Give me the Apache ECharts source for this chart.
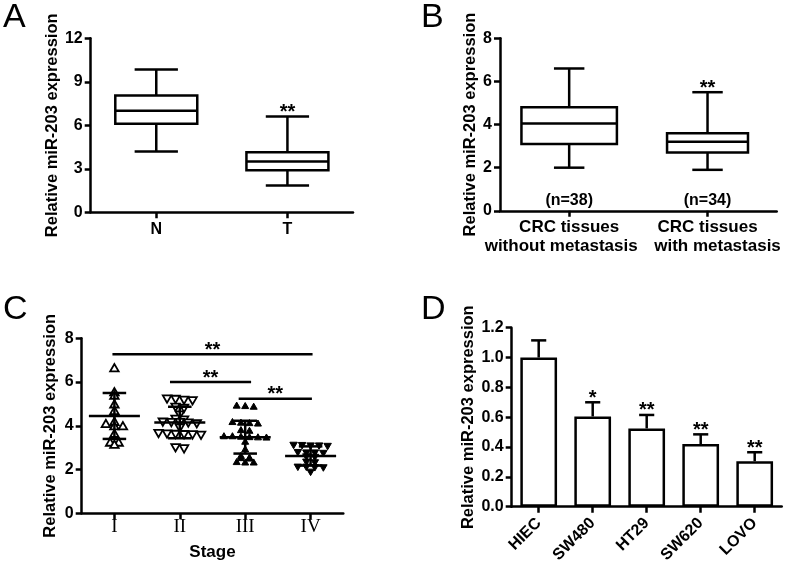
<!DOCTYPE html>
<html><head><meta charset="utf-8">
<script src="https://cdn.jsdelivr.net/npm/echarts@6/dist/echarts.min.js"></script>
<style>html,body{margin:0;padding:0;background:#fff}#c{width:787px;height:569px}</style>
</head><body><div id="c"></div>
<script>
// ---------- Panel A ----------
const catsA = ['N', 'T'];
const boxA = [[4.2, 6.1, 7.0, 8.05, 9.85], [1.85, 2.9, 3.5, 4.15, 6.6]]; // min,q1,median,q3,max
const sigA = ['', '**'];
const ticksA = [0, 12, 3];
// ---------- Panel B ----------
const catsB = ['CRC tissues\nwithout metastasis', 'CRC tissues\nwith metastasis'];
const nB = ['(n=38)', '(n=34)'];
const boxB = [[2.0, 3.1, 4.05, 4.8, 6.6], [1.9, 2.7, 3.2, 3.6, 5.5]];
const sigB = ['', '**'];
const ticksB = [0, 8, 2];
// ---------- Panel C ----------
const catsC = ['I', 'II', 'III', 'IV'];
const stageI = [6.6, 5.5, 5.35, 4.95, 4.65, 4.15, 4.05, 3.95, 3.95, 3.6, 3.2, 3.2, 3.1];
const stageII = [5.28, 5.22, 5.2, 5.26, 4.9, 4.85, 4.55, 4.35, 4.32, 4.2, 4.18, 4.15, 4.2, 4.22, 3.95, 3.68, 3.65, 3.62, 3.66, 3.7, 3.64, 3.05, 3.0];
const stageIII = [4.9, 4.88, 4.85, 4.15, 4.1, 4.12, 4.08, 3.78, 3.75, 3.5, 3.48, 3.45, 3.46, 3.5, 3.44, 3.25, 2.9, 2.6, 2.5, 2.52, 2.48, 2.32, 2.3, 2.3];
const stageIV = [3.15, 3.12, 3.1, 3.14, 3.12, 2.82, 2.8, 2.78, 2.8, 2.62, 2.6, 2.38, 2.35, 2.15, 2.12, 2.15, 2.13, 1.92];
const meanC = [4.45, 4.15, 3.48, 2.62];
const sdC = [1.05, 0.72, 0.75, 0.44];
const bracketsC = [[0, 3, 7.27, '**'], [1, 2, 6.0, '**'], [2, 3, 5.24, '**']];
const ticksC = [0, 8, 2];
// ---------- Panel D ----------
const catsD = ['HIEC', 'SW480', 'HT29', 'SW620', 'LOVO'];
const valD = [1.0, 0.605, 0.525, 0.42, 0.305];
const errD = [0.115, 0.095, 0.09, 0.065, 0.06];
const sigD = ['', '*', '**', '**', '**'];
const ticksD = [0, 1.2, 0.2];

const FONT = '"Liberation Sans", Arial, sans-serif';
const SERIF = '"Liberation Serif", "Times New Roman", serif';
const LW = 2.5;
const YTITLE = 'Relative miR-203 expression';

const chart = echarts.init(document.getElementById('c'), null, {renderer: 'canvas'});

function yAx(gi, t, nameGap, fmt) {
  return {
    type: 'value', gridIndex: gi, min: t[0], max: t[1], interval: t[2],
    name: YTITLE, nameLocation: 'middle', nameGap: nameGap,
    nameTextStyle: {fontSize: 16.5, fontWeight: 700, color: '#000', fontFamily: FONT},
    axisLine: {show: true, lineStyle: {color: '#000', width: LW}},
    axisTick: {show: true, length: 6, lineStyle: {color: '#000', width: LW}},
    axisLabel: {fontSize: 16, fontWeight: 700, color: '#000', margin: 8, fontFamily: FONT, formatter: fmt},
    splitLine: {show: false}
  };
}
function xAx(gi, cats, label, extra) {
  return Object.assign({
    type: 'category', gridIndex: gi, data: cats, boundaryGap: true,
    axisLine: {show: true, lineStyle: {color: '#000', width: LW}},
    axisTick: {show: true, alignWithLabel: true, length: 6, lineStyle: {color: '#000', width: LW}},
    axisLabel: Object.assign({fontSize: 16, fontWeight: 700, color: '#000', fontFamily: FONT, margin: 7, interval: 0}, label),
    splitLine: {show: false}
  }, extra || {});
}

const lineStyle = {stroke: '#000', lineWidth: LW, fill: null};
function starText(x, y, s) {
  return {type: 'text', style: {x: x, y: y, text: s, fill: '#000', font: 'bold 20px ' + FONT, align: 'center', verticalAlign: 'middle'}};
}

function boxRender(fracs, capFrac, sigs, nLabels) {
  return function (params, api) {
    const c = api.value(0);
    const mn = api.coord([c, api.value(1)]);
    const q1 = api.coord([c, api.value(2)]);
    const md = api.coord([c, api.value(3)]);
    const q3 = api.coord([c, api.value(4)]);
    const mx = api.coord([c, api.value(5)]);
    const band = api.size([1, 0])[0];
    const bw = band * fracs[c];
    const cw = band * capFrac;
    const x = mn[0];
    const kids = [
      {type: 'line', shape: {x1: x, y1: q3[1], x2: x, y2: mx[1]}, style: lineStyle},
      {type: 'line', shape: {x1: x, y1: q1[1], x2: x, y2: mn[1]}, style: lineStyle},
      {type: 'line', shape: {x1: x - cw / 2, y1: mx[1], x2: x + cw / 2, y2: mx[1]}, style: lineStyle},
      {type: 'line', shape: {x1: x - cw / 2, y1: mn[1], x2: x + cw / 2, y2: mn[1]}, style: lineStyle},
      {type: 'rect', shape: {x: x - bw / 2, y: q3[1], width: bw, height: q1[1] - q3[1]}, style: {stroke: '#000', fill: '#fff', lineWidth: LW}},
      {type: 'line', shape: {x1: x - bw / 2, y1: md[1], x2: x + bw / 2, y2: md[1]}, style: lineStyle}
    ];
    if (sigs[c]) kids.push(starText(x, mx[1] - 4, sigs[c]));
    if (nLabels) {
      const z = api.coord([c, 0]);
      kids.push({type: 'text', style: {x: x, y: z[1] - 10, text: nLabels[c], fill: '#000', font: 'bold 16px ' + FONT, align: 'center', verticalAlign: 'middle'}});
    }
    return {type: 'group', children: kids};
  };
}

// swarm layout: group near-equal values into rows, spread horizontally
function swarm(g, vals, thr) {
  const sorted = vals.slice().sort((a, b) => b - a);
  const rows = [];
  sorted.forEach(v => {
    const r = rows[rows.length - 1];
    if (r && r[0] - v <= thr) r.push(v); else rows.push([v]);
  });
  const out = [];
  rows.forEach(r => r.forEach((v, i) => out.push([g, v, i - (r.length - 1) / 2])));
  return out;
}
const stages = [stageI, stageII, stageIII, stageIV];
let pointsC = [];
stages.forEach((s, g) => { pointsC = pointsC.concat(swarm(g, s, 0.1)); });
const markers = [
  {up: true, fill: '#fff', size: 8.5, lw: 1.8},
  {up: false, fill: '#fff', size: 8.5, lw: 1.8},
  {up: true, fill: '#000', size: 7, lw: 1},
  {up: false, fill: '#000', size: 7.5, lw: 1}
];
const SPACING = 8.5;
function triRender(params, api) {
  const g = api.value(0), v = api.value(1), k = api.value(2);
  const p = api.coord([g, v]);
  const x = p[0] + k * SPACING, y = p[1];
  const m = markers[g];
  const s = m.size, h = s * 0.87;
  const pts = m.up
    ? [[x, y - h * 2 / 3], [x - s / 2, y + h / 3], [x + s / 2, y + h / 3]]
    : [[x, y + h * 2 / 3], [x - s / 2, y - h / 3], [x + s / 2, y - h / 3]];
  return {type: 'polygon', shape: {points: pts}, style: {fill: m.fill, stroke: '#000', lineWidth: m.lw}};
}
function meanSdRender(params, api) {
  const c = api.value(0), mu = api.value(1), sd = api.value(2);
  const pm = api.coord([c, mu]), pt = api.coord([c, mu + sd]), pb = api.coord([c, mu - sd]);
  const band = api.size([1, 0])[0];
  const mw = band * 0.78, cw = band * 0.36;
  const x = pm[0];
  return {type: 'group', children: [
    {type: 'line', shape: {x1: x, y1: pt[1], x2: x, y2: pb[1]}, style: lineStyle},
    {type: 'line', shape: {x1: x - mw / 2, y1: pm[1], x2: x + mw / 2, y2: pm[1]}, style: lineStyle},
    {type: 'line', shape: {x1: x - cw / 2, y1: pt[1], x2: x + cw / 2, y2: pt[1]}, style: lineStyle},
    {type: 'line', shape: {x1: x - cw / 2, y1: pb[1], x2: x + cw / 2, y2: pb[1]}, style: lineStyle}
  ]};
}
const bracketInset = [[-0.03, 0.03], [-0.15, 0.09], [-0.1, 0.02]];
function bracketRender(params, api) {
  const i = params.dataIndex;
  const a = api.value(0), b = api.value(1), yv = api.value(2);
  const band = api.size([1, 0])[0];
  const pa = api.coord([a, yv]), pb = api.coord([b, yv]);
  const x1 = pa[0] + bracketInset[i][0] * band, x2 = pb[0] + bracketInset[i][1] * band;
  return {type: 'group', children: [
    {type: 'line', shape: {x1: x1, y1: pa[1], x2: x2, y2: pa[1]}, style: lineStyle},
    starText((x1 + x2) / 2, pa[1] - 4, bracketsC[i][3])
  ]};
}
function errRender(params, api) {
  const c = api.value(0), v = api.value(1), e = api.value(2);
  const p0 = api.coord([c, v]), p1 = api.coord([c, v + e]);
  const band = api.size([1, 0])[0];
  const cw = band * 0.28;
  const x = p0[0];
  const kids = [
    {type: 'line', shape: {x1: x, y1: p0[1], x2: x, y2: p1[1]}, style: lineStyle},
    {type: 'line', shape: {x1: x - cw / 2, y1: p1[1], x2: x + cw / 2, y2: p1[1]}, style: lineStyle}
  ];
  if (sigD[c]) kids.push(starText(x, p1[1] - 4, sigD[c]));
  return {type: 'group', children: kids};
}

const letter = (t, x, y) => ({type: 'text', left: x, top: y, style: {text: t, fill: '#000', font: '34px ' + FONT}});

// label style for panel B: second line nudged (left for first, right for second)
const richB = {
  l0: {fontSize: 17, fontWeight: 700, fontFamily: FONT, color: '#000', lineHeight: 19},
  l1: {fontSize: 17, fontWeight: 700, fontFamily: FONT, color: '#000', lineHeight: 19, padding: [0, 16, 0, 0]},
  l2: {fontSize: 17, fontWeight: 700, fontFamily: FONT, color: '#000', lineHeight: 19, padding: [0, 0, 0, 20]}
};
const fmtB = (v, i) => {
  const parts = v.split('\n');
  return '{l0|' + parts[0] + '}\n{' + (i === 0 ? 'l1' : 'l2') + '|' + parts[1] + '}';
};

const option = {
  animation: false,
  backgroundColor: '#fff',
  graphic: [letter('A', 3, 1), letter('B', 421, 1), letter('C', 3, 293), letter('D', 421, 293)],
  grid: [
    {left: 90.7, top: 38.3, width: 262.3, height: 174},
    {left: 500, top: 38.3, width: 276.7, height: 172.5},
    {left: 81.7, top: 338.3, width: 261.6, height: 175},
    {left: 511.7, top: 327.7, width: 270, height: 179}
  ],
  xAxis: [
    xAx(0, catsA, {margin: 9}),
    xAx(1, catsB, {fontSize: 17, lineHeight: 19, margin: 7, formatter: fmtB, rich: richB}),
    xAx(2, catsC, {fontFamily: SERIF, fontWeight: 'normal', fontSize: 19, margin: 4},
      {name: 'Stage', nameLocation: 'middle', nameGap: 31, nameTextStyle: {fontSize: 17, fontWeight: 700, color: '#000', fontFamily: FONT}}),
    xAx(3, catsD, {rotate: 45, margin: 14, fontSize: 16})
  ],
  yAxis: [
    yAx(0, ticksA, 30),
    yAx(1, ticksB, 21),
    yAx(2, ticksC, 23),
    yAx(3, ticksD, 35, v => v.toFixed(1))
  ],
  series: [
    {type: 'custom', xAxisIndex: 0, yAxisIndex: 0, renderItem: boxRender([0.625, 0.625], 0.33, sigA),
      data: boxA.map((b, i) => [i].concat(b)), encode: {x: 0, y: [1, 2, 3, 4, 5]}},
    {type: 'custom', xAxisIndex: 1, yAxisIndex: 1, renderItem: boxRender([0.69, 0.585], 0.22, sigB, nB),
      data: boxB.map((b, i) => [i].concat(b)), encode: {x: 0, y: [1, 2, 3, 4, 5]}},
    {type: 'custom', xAxisIndex: 2, yAxisIndex: 2, renderItem: triRender, data: pointsC, encode: {x: 0, y: 1}},
    {type: 'custom', xAxisIndex: 2, yAxisIndex: 2, renderItem: meanSdRender,
      data: meanC.map((m, i) => [i, m, sdC[i]]), encode: {x: 0, y: 1}},
    {type: 'custom', xAxisIndex: 2, yAxisIndex: 2, renderItem: bracketRender,
      data: bracketsC.map(b => [b[0], b[1], b[2]]), encode: {x: 0, y: 2}},
    {type: 'bar', xAxisIndex: 3, yAxisIndex: 3, data: valD, barWidth: '68%',
      itemStyle: {color: '#fff', borderColor: '#000', borderWidth: LW}},
    {type: 'custom', xAxisIndex: 3, yAxisIndex: 3, renderItem: errRender,
      data: valD.map((v, i) => [i, v, errD[i]]), encode: {x: 0, y: 1}}
  ]
};
chart.setOption(option);
</script>
</body></html>
